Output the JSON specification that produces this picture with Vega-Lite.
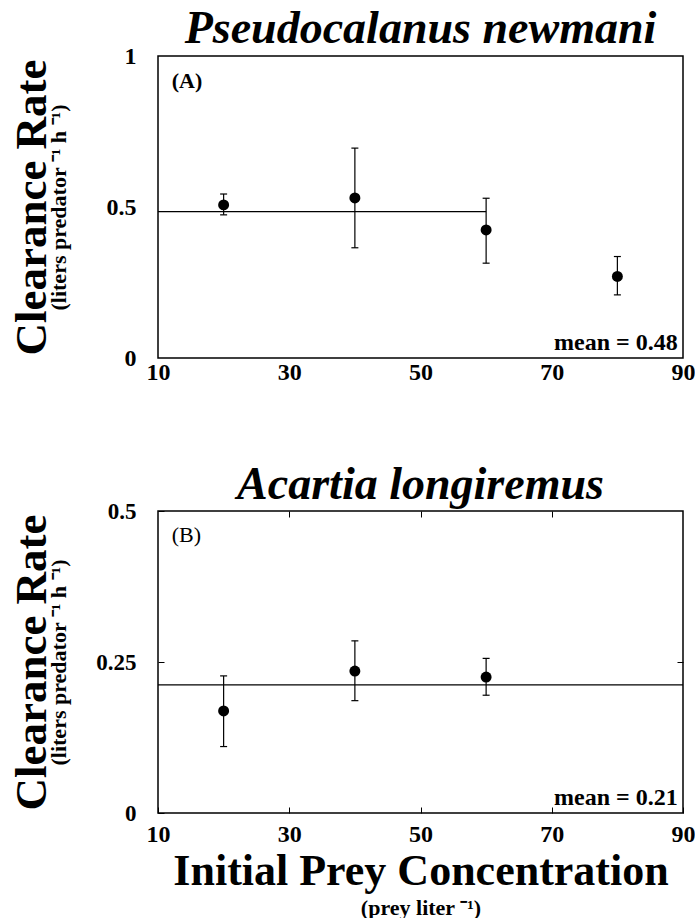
{
  "$schema": "https://vega.github.io/schema/vega-lite/v6.json",
  "background": "white",
  "padding": {"left": 8, "top": 5, "right": 0, "bottom": 0},
  "spacing": 76,
  "datasets": {
    "a": [
      {"conc": 20, "rate": 0.507, "lo": 0.474, "hi": 0.543},
      {"conc": 40, "rate": 0.530, "lo": 0.365, "hi": 0.695},
      {"conc": 60, "rate": 0.424, "lo": 0.314, "hi": 0.529},
      {"conc": 80, "rate": 0.270, "lo": 0.209, "hi": 0.336}
    ],
    "b": [
      {"conc": 20, "rate": 0.169, "lo": 0.110, "hi": 0.227},
      {"conc": 40, "rate": 0.235, "lo": 0.186, "hi": 0.285},
      {"conc": 60, "rate": 0.225, "lo": 0.195, "hi": 0.256}
    ],
    "meanA": [{"mean": 0.485, "from": 10, "to": 60}],
    "meanB": [{"mean": 0.212, "from": 10, "to": 90}],
    "tagA": [{"tag": "(A)", "meanLabel": "mean = 0.48"}],
    "tagB": [{"tag": "(B)", "meanLabel": "mean = 0.21"}]
  },
  "config": {
    "view": {"stroke": "black", "strokeWidth": 1.5},
    "font": "Liberation Serif",
    "axis": {
      "grid": false,
      "domain": false,
      "labelColor": "black",
      "titleColor": "black",
      "tickColor": "black",
      "labelFont": "Liberation Serif",
      "titleFont": "Liberation Serif",
      "labelFontWeight": "bold",
      "titleFontWeight": "bold",
      "minExtent": 0,
      "labelFlush": false,
      "labelOverlap": false
    }
  },
  "vconcat": [
    {
      "title": {"text": "Pseudocalanus newmani", "font": "Liberation Serif", "fontSize": 46, "fontStyle": "italic", "fontWeight": "bold", "anchor": "middle", "offset": -9, "color": "black"},
      "width": 525,
      "height": 302,
      "resolve": {"axis": {"x": "independent", "y": "independent"}},
      "layer": [
        {
          "data": {"name": "a"},
          "mark": {"type": "rule", "color": "black", "strokeWidth": 1.2},
          "encoding": {
            "x": {"field": "conc", "type": "quantitative", "scale": {"domain": [10, 90], "nice": false, "zero": false},
                  "axis": {"orient": "bottom", "values": [10, 30, 50, 70, 90], "format": "d", "ticks": false, "labelPadding": 2, "labelFontSize": 24, "title": null}},
            "y": {"field": "lo", "type": "quantitative", "scale": {"domain": [0, 1], "nice": false, "zero": false},
                  "axis": {"orient": "left", "values": [0, 0.5, 1], "format": ".2~f", "ticks": false, "labelPadding": 22, "labelFontSize": 24, "title": null}},
            "y2": {"field": "hi"}
          }
        },
        {
          "data": {"name": "a"},
          "mark": {"type": "tick", "orient": "horizontal", "size": 7, "thickness": 1.2, "color": "black", "opacity": 1},
          "encoding": {
            "x": {"field": "conc", "type": "quantitative", "axis": null},
            "y": {"field": "lo", "type": "quantitative", "axis": null}
          }
        },
        {
          "data": {"name": "a"},
          "mark": {"type": "tick", "orient": "horizontal", "size": 7, "thickness": 1.2, "color": "black", "opacity": 1},
          "encoding": {
            "x": {"field": "conc", "type": "quantitative", "axis": null},
            "y": {"field": "hi", "type": "quantitative", "axis": null}
          }
        },
        {
          "data": {"name": "a"},
          "mark": {"type": "circle", "size": 120, "color": "black", "opacity": 1},
          "encoding": {
            "x": {"field": "conc", "type": "quantitative", "axis": null},
            "y": {"field": "rate", "type": "quantitative",
                  "axis": {"orient": "left", "labels": false, "ticks": false, "title": "(liters predator ⁻¹ h ⁻¹)", "titleFontSize": 22, "titlePadding": 88}}
          }
        },
        {
          "data": {"name": "meanA"},
          "mark": {"type": "rule", "color": "black", "strokeWidth": 1.2},
          "encoding": {
            "x": {"field": "from", "type": "quantitative", "axis": null},
            "x2": {"field": "to"},
            "y": {"field": "mean", "type": "quantitative",
                  "axis": {"orient": "left", "labels": false, "ticks": false, "title": "Clearance Rate", "titleFontSize": 45, "titlePadding": 104}}
          }
        },
        {
          "data": {"name": "tagA"},
          "mark": {"type": "text", "font": "Liberation Serif", "fontWeight": "bold", "fontSize": 22, "align": "left", "baseline": "top", "color": "black"},
          "encoding": {
            "x": {"datum": 12.1, "type": "quantitative", "axis": null},
            "y": {"datum": 0.95, "type": "quantitative", "axis": null},
            "text": {"field": "tag"}
          }
        },
        {
          "data": {"name": "tagA"},
          "mark": {"type": "text", "font": "Liberation Serif", "fontWeight": "bold", "fontSize": 24, "align": "right", "baseline": "alphabetic", "color": "black"},
          "encoding": {
            "x": {"datum": 89.2, "type": "quantitative", "axis": null},
            "y": {"datum": 0.027, "type": "quantitative", "axis": null},
            "text": {"field": "meanLabel"}
          }
        }
      ]
    },
    {
      "title": {"text": "Acartia longiremus", "font": "Liberation Serif", "fontSize": 46, "fontStyle": "italic", "fontWeight": "bold", "anchor": "middle", "offset": -9, "color": "black"},
      "width": 525,
      "height": 302,
      "resolve": {"axis": {"x": "independent", "y": "independent"}},
      "layer": [
        {
          "data": {"name": "b"},
          "mark": {"type": "rule", "color": "black", "strokeWidth": 1.2},
          "encoding": {
            "x": {"field": "conc", "type": "quantitative", "scale": {"domain": [10, 90], "nice": false, "zero": false},
                  "axis": {"orient": "bottom", "values": [10, 30, 50, 70, 90], "format": "d", "ticks": true, "tickSize": -6, "labelPadding": 15, "labelFontSize": 24, "title": null}},
            "y": {"field": "lo", "type": "quantitative", "scale": {"domain": [0, 0.5], "nice": false, "zero": false},
                  "axis": {"orient": "left", "values": [0, 0.25, 0.5], "format": ".2~f", "ticks": true, "tickSize": -6, "labelPadding": 28, "labelFontSize": 23, "title": null}},
            "y2": {"field": "hi"}
          }
        },
        {
          "data": {"name": "b"},
          "mark": {"type": "tick", "orient": "horizontal", "size": 7, "thickness": 1.2, "color": "black", "opacity": 1},
          "encoding": {
            "x": {"field": "conc", "type": "quantitative",
                  "axis": {"orient": "top", "values": [30, 50, 70], "labels": false, "ticks": true, "tickSize": -6, "title": null}},
            "y": {"field": "lo", "type": "quantitative",
                  "axis": {"orient": "right", "values": [0.25], "labels": false, "ticks": true, "tickSize": -6, "title": null}}
          }
        },
        {
          "data": {"name": "b"},
          "mark": {"type": "tick", "orient": "horizontal", "size": 7, "thickness": 1.2, "color": "black", "opacity": 1},
          "encoding": {
            "x": {"field": "conc", "type": "quantitative", "axis": null},
            "y": {"field": "hi", "type": "quantitative", "axis": null}
          }
        },
        {
          "data": {"name": "b"},
          "mark": {"type": "circle", "size": 120, "color": "black", "opacity": 1},
          "encoding": {
            "x": {"field": "conc", "type": "quantitative",
                  "axis": {"orient": "bottom", "labels": false, "ticks": false, "title": "Initial Prey Concentration", "titleFontSize": 44, "titlePadding": 36}},
            "y": {"field": "rate", "type": "quantitative",
                  "axis": {"orient": "left", "labels": false, "ticks": false, "title": "(liters predator ⁻¹ h ⁻¹)", "titleFontSize": 22, "titlePadding": 88}}
          }
        },
        {
          "data": {"name": "meanB"},
          "mark": {"type": "rule", "color": "black", "strokeWidth": 1.2},
          "encoding": {
            "x": {"field": "from", "type": "quantitative",
                  "axis": {"orient": "bottom", "labels": false, "ticks": false, "title": "(prey liter ⁻¹)", "titleFontSize": 22, "titlePadding": 84}},
            "x2": {"field": "to"},
            "y": {"field": "mean", "type": "quantitative",
                  "axis": {"orient": "left", "labels": false, "ticks": false, "title": "Clearance Rate", "titleFontSize": 45, "titlePadding": 104}}
          }
        },
        {
          "data": {"name": "tagB"},
          "mark": {"type": "text", "font": "Liberation Serif", "fontWeight": "normal", "fontSize": 22, "align": "left", "baseline": "top", "color": "black"},
          "encoding": {
            "x": {"datum": 12.1, "type": "quantitative", "axis": null},
            "y": {"datum": 0.477, "type": "quantitative", "axis": null},
            "text": {"field": "tag"}
          }
        },
        {
          "data": {"name": "tagB"},
          "mark": {"type": "text", "font": "Liberation Serif", "fontWeight": "bold", "fontSize": 24, "align": "right", "baseline": "alphabetic", "color": "black"},
          "encoding": {
            "x": {"datum": 89.2, "type": "quantitative", "axis": null},
            "y": {"datum": 0.0125, "type": "quantitative", "axis": null},
            "text": {"field": "meanLabel"}
          }
        }
      ]
    }
  ]
}
